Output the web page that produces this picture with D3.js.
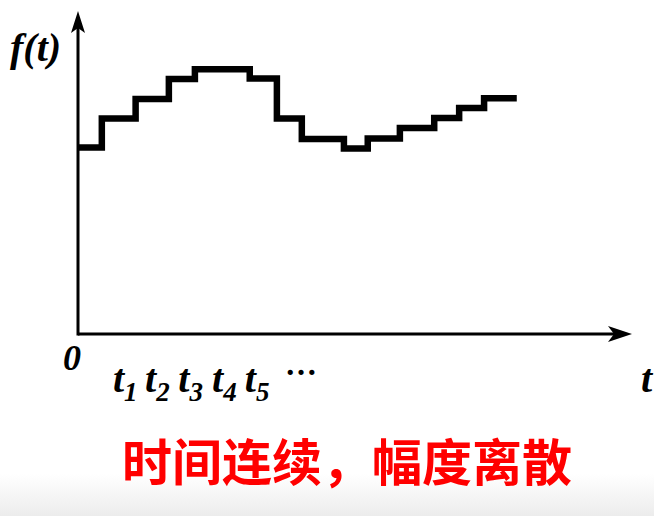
<!DOCTYPE html>
<html>
<head>
<meta charset="utf-8">
<script src="https://cdn.jsdelivr.net/npm/d3@7"></script>
<style>
html,body{margin:0;padding:0;background:#fff;}
svg{display:block;}
</style>
</head>
<body>
<svg id="chart" width="654" height="516"></svg>
<script>
// ---- data ----
const stepTimes  = [0, 4.3, 10.4, 16.4, 21.1, 31.0, 35.9, 40.4, 48.0, 52.3, 58.1, 64.3, 68.8, 73.3, 79.2];
const stepValues = [57.8, 66.8, 72.9, 79.1, 82.2, 79.3, 66.8, 60.4, 57.5, 60.6, 63.9, 67.0, 70.1, 73.1, 73.1];
const tickValues = [6.3, 12.1, 18.1, 24.2, 30.1];
const tickSubs   = ["1", "2", "3", "4", "5"];
const yLabel = "f(t)";
const xLabel = "t";
const originLabel = "0";
const caption = "时间连续，幅度离散";

// ---- layout ----
const W = 654, H = 516;
const x0 = 78, x1 = 632, y0 = 334, y1 = 11;
const x = d3.scaleLinear().domain([0, 100]).range([x0, x0 + 554]);
const y = d3.scaleLinear().domain([0, 100]).range([333, 12]);

const svg = d3.select("#chart");

// background gradient at bottom
const defs = svg.append("defs");
const grad = defs.append("linearGradient").attr("id", "bg").attr("x1", 0).attr("y1", 0).attr("x2", 0).attr("y2", 1);
grad.append("stop").attr("offset", "0%").attr("stop-color", "#ffffff");
grad.append("stop").attr("offset", "100%").attr("stop-color", "#ececec");
svg.append("rect").attr("x", 0).attr("y", 474).attr("width", W).attr("height", H - 474).attr("fill", "url(#bg)");

// axes
svg.append("line").attr("x1", x0).attr("y1", y0).attr("x2", x1 - 14).attr("y2", y0)
  .attr("stroke", "#000").attr("stroke-width", 3);
svg.append("line").attr("x1", x0).attr("y1", y0 + 1.5).attr("x2", x0).attr("y2", y1 + 14)
  .attr("stroke", "#000").attr("stroke-width", 3);
// arrowheads (stealth)
svg.append("path")
  .attr("d", `M${x1},${y0} L${x1 - 24},${y0 - 8} L${x1 - 18},${y0} L${x1 - 24},${y0 + 8} Z`)
  .attr("fill", "#000");
svg.append("path")
  .attr("d", `M${x0},${y1} L${x0 - 7},${y1 + 22} L${x0},${y1 + 17} L${x0 + 7},${y1 + 22} Z`)
  .attr("fill", "#000");

// step signal
const pts = stepTimes.map((t, i) => [t, stepValues[i]]);
const line = d3.line().x(d => x(d[0])).y(d => y(d[1])).curve(d3.curveStepAfter);
svg.append("path").datum(pts)
  .attr("d", line)
  .attr("fill", "none")
  .attr("stroke", "#000")
  .attr("stroke-width", 6.5)
  .attr("stroke-linejoin", "miter")
  .attr("stroke-linecap", "butt");

// text styles
const serif = "'Liberation Serif','Times New Roman',serif";

svg.append("text").attr("x", 10).attr("y", 61)
  .attr("font-family", serif).attr("font-weight", "bold").attr("font-style", "italic")
  .attr("font-size", 40).text(yLabel);

svg.append("text").attr("x", 63).attr("y", 370)
  .attr("font-family", serif).attr("font-weight", "bold").attr("font-style", "italic")
  .attr("font-size", 36).text(originLabel);

svg.append("text").attr("x", 641).attr("y", 392)
  .attr("font-family", serif).attr("font-weight", "bold").attr("font-style", "italic")
  .attr("font-size", 40).text(xLabel);

const ticks = svg.append("g").attr("font-family", serif).attr("font-weight", "bold").attr("font-style", "italic");
tickValues.forEach((v, i) => {
  const t = ticks.append("text").attr("x", x(v)).attr("y", 392).attr("font-size", 40);
  t.append("tspan").text("t");
  t.append("tspan").attr("dy", 9).attr("font-size", 27).text(tickSubs[i]);
});
ticks.append("text").attr("x", 285).attr("y", 375).attr("font-size", 32).attr("font-style", "normal").text("…");

svg.append("text").attr("x", 122).attr("y", 481)
  .attr("font-family", "'Noto Sans CJK SC','Noto Sans CJK JP',sans-serif")
  .attr("font-weight", "bold").attr("font-size", 50).attr("fill", "#ff0000")
  .text(caption);
</script>
</body>
</html>
